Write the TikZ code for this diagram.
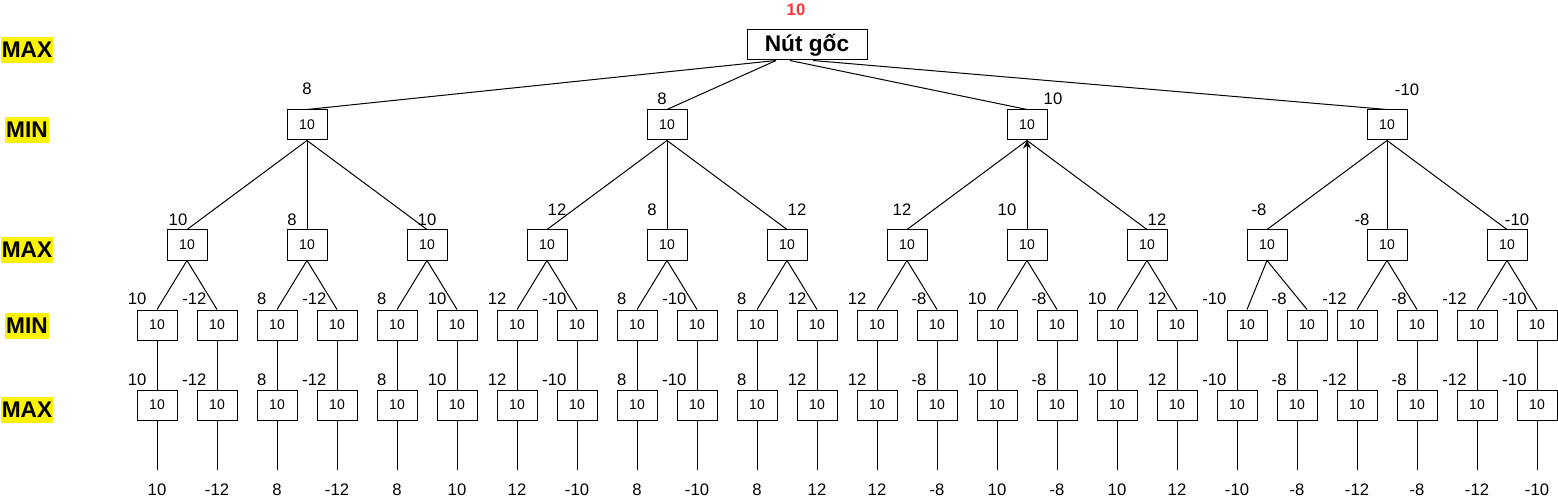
\documentclass[tikz,border=0pt]{standalone}
\usepackage{fontspec}
\setmainfont{Liberation Sans}
\usepackage{tikz}
\usetikzlibrary{positioning}
\usetikzlibrary{arrows.meta}
\usetikzlibrary{calc}
\definecolor{rootred}{RGB}{255,51,51}
\tikzset{box node/.style={draw,minimum width=30pt,minimum height=22.5pt,inner sep=0pt,font=\fontsize{10.5}{12}\selectfont},
	val/.style={inner sep=0pt,font=\fontsize{12.5}{15}\selectfont},
	level/.style={fill=yellow,inner xsep=0.6pt,inner ysep=0pt,minimum height=19.5pt,font=\fontsize{17}{20}\selectfont\bfseries},}

\begin{document}
\begin{tikzpicture}[x=0.75pt, y=-0.75pt, line width=0.75pt]
		\useasboundingbox (0,0) rectangle (1558,502);
		% MAX / MIN rows
		\node[level] (l1) at (27,50) {MAX};
		\node[level] (l2) at (27,130) {MIN};
		\node[level] (l3) at (27,250) {MAX};
		\node[level] (l4) at (27,325.5) {MIN};
		\node[level] (l5) at (27,410) {MAX};
		
		\node[box node, minimum width=90pt, font=\fontsize{17}{20}\selectfont\bfseries] (root) at (807,45) {Nút gốc};
		\node[val, text=rootred, font=\fontsize{12.5}{15}\selectfont\bfseries] (rv) at (796,10) {10};
		
		\foreach \x [count=\i] in {307,667,1027,1387}
			\node[box node] (a\i) at (\x,125) {10};
		\foreach \i in {1,...,12}
			\node[box node] (b\i) at (67+120*\i,245) {10};
		\foreach \x [count=\i] in {157,217,277,337,397,457,517,577,637,697,757,817,877,937,997,1057,1117,1177,1247,1307,1357,1417,1477,1537}
			\node[box node] (c\i) at (\x,325) {10};
		\foreach \i in {1,...,24}
			\node[box node] (d\i) at (97+60*\i,405) {10};
		
		% values
		\foreach \px/\py/\v [count=\i] in {307/89/8, 662/99/8, 1053/99/10, 1407/90/-10}
			\node[val] (av\i) at (\px,\py) {\v};
		\foreach \px/\py/\v [count=\i] in {178/220/10, 292/220/8, 427/220/10, 557/210/12, 652/210/8, 797/210/12, 902/210/12, 1007/210/10, 1157/220/12, 1259/210/-8, 1362/220/-8, 1517/220/-10}
			\node[val] (bv\i) at (\px,\py) {\v};
		\foreach \v [count=\i] in {10,-12,8,-12,8,10,12,-10,8,-10,8,12,12,-8,10,-8,10,12,-10,-8,-12,-8,-12,-10} {
			\node[val, anchor=east] (cv\i) at (87+60*\i,299) {\v};
			\node[val, anchor=east] (dv\i) at (87+60*\i,380) {\v};
			\coordinate (e\i) at (97+60*\i,470);
			\node[val] (ev\i) at (97+60*\i,490) {\v};
		}
		
		\coordinate (r1) at ($(root.south)+(-31,0)$);
		\coordinate (r2) at ($(root.south)+(-17,0)$);
		\coordinate (r3) at ($(root.south)+(6,0)$);
		\path[draw]
		(r1) edge (a1.north)
		(r1) edge (a2.north)
		(r2) edge (a3.north)
		(r3) edge (a4.north);
		
		\path[draw]
		(a1.south) edge (b1.north)
		(a1.south) edge (b2.north)
		(a1.south) edge (b3.north)
		(a2.south) edge (b4.north)
		(a2.south) edge (b5.north)
		(a2.south) edge (b6.north)
		(a3.south) edge (b7.north)
		(b8.north) edge [-{Stealth[length=6pt,width=6pt]}] (a3.south)
		(a3.south) edge (b9.north)
		(a4.south) edge (b10.north)
		(a4.south) edge (b11.north)
		(a4.south) edge (b12.north);
		
		\foreach \i in {1,...,24} {
			\pgfmathtruncatemacro\p{(\i+1)/2}
			\draw (b\p.south) -- (c\i.north);
			\draw (d\i.north |- c\i.south) -- (d\i.north);
			\draw (d\i.south) -- (e\i);
		}
\end{tikzpicture}
\end{document}
